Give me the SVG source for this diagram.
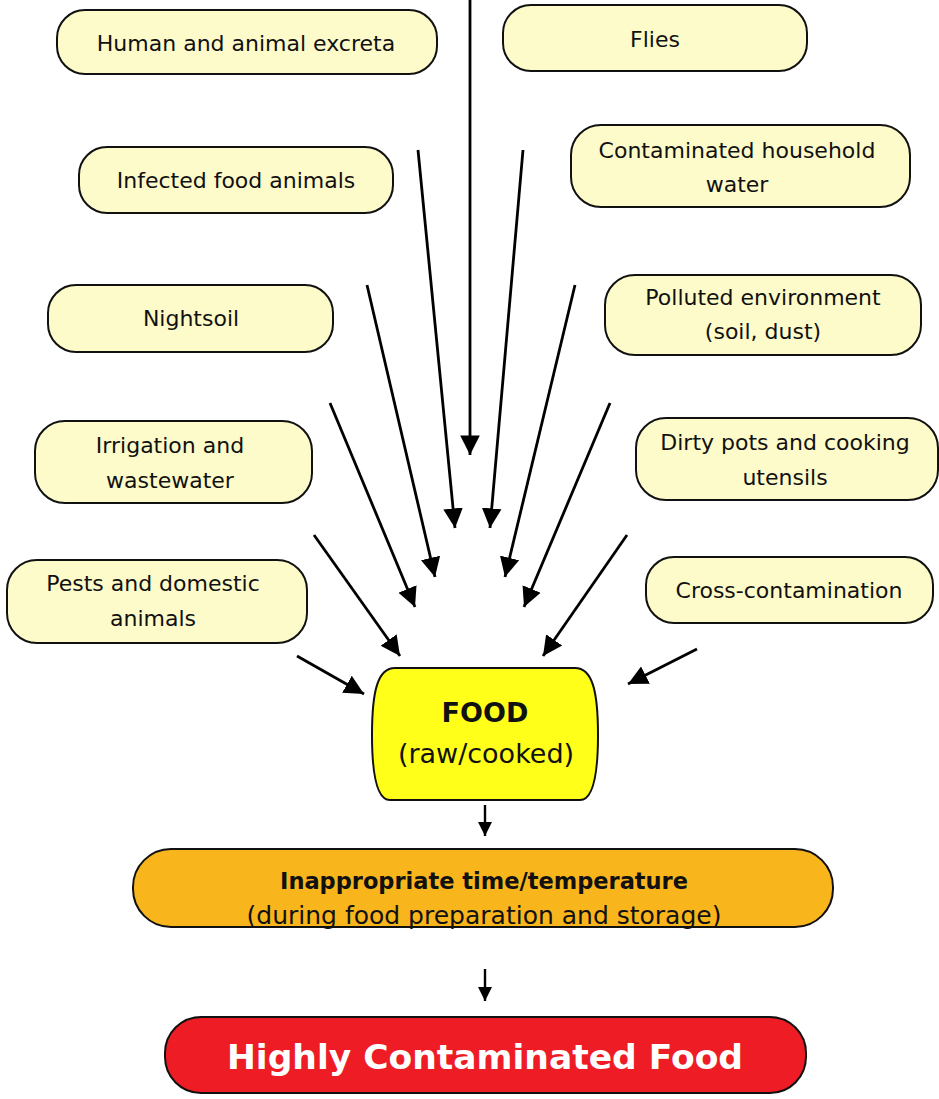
<svg xmlns="http://www.w3.org/2000/svg" width="939" height="1099" viewBox="0 0 939 1099">
<defs>
<style>
.src{fill:#fdfbc9;stroke:#111;stroke-width:2}
.t{font-family:"DejaVu Sans","Open Sans",sans-serif;font-size:22px;fill:#111;text-anchor:middle}
.c line{stroke:#000;stroke-width:2.8}
</style>
<marker id="big" viewBox="0 0 10 10" refX="10" refY="5" markerWidth="7" markerHeight="8" orient="auto">
<path d="M0,0 L10,5 L0,10 Z" fill="#000"/>
</marker>
<marker id="small" viewBox="0 0 10 10" refX="10" refY="5" markerWidth="6" markerHeight="6.5" orient="auto">
<path d="M0,0 L10,5 L0,10 Z" fill="#000"/>
</marker>
</defs>
<rect width="939" height="1099" fill="#fff"/>
<g id="excreta"><rect class="src" x="57" y="10" width="380" height="64" rx="28"/><text class="t" x="246" y="51">Human and animal excreta</text></g>
<g id="flies"><rect class="src" x="503" y="5" width="304" height="66" rx="28"/><text class="t" x="655" y="47">Flies</text></g>
<g id="infected"><rect class="src" x="79" y="147" width="314" height="66" rx="28"/><text class="t" x="236" y="188">Infected food animals</text></g>
<g id="water"><rect class="src" x="571" y="125" width="339" height="82" rx="30"/><text class="t" x="737" y="158">Contaminated household</text><text class="t" x="737" y="192">water</text></g>
<g id="nightsoil"><rect class="src" x="48" y="285" width="285" height="67" rx="28"/><text class="t" x="191" y="326">Nightsoil</text></g>
<g id="polluted"><rect class="src" x="605" y="275" width="316" height="80" rx="30"/><text class="t" x="763" y="305">Polluted environment</text><text class="t" x="763" y="339">(soil, dust)</text></g>
<g id="irrigation"><rect class="src" x="35" y="421" width="277" height="82" rx="30"/><text class="t" x="170" y="453">Irrigation and</text><text class="t" x="170" y="488">wastewater</text></g>
<g id="pots"><rect class="src" x="636" y="418" width="302" height="82" rx="30"/><text class="t" x="785" y="450">Dirty pots and cooking</text><text class="t" x="785" y="485">utensils</text></g>
<g id="pests"><rect class="src" x="7" y="560" width="300" height="83" rx="30"/><text class="t" x="153" y="591">Pests and domestic</text><text class="t" x="153" y="626">animals</text></g>
<g id="cross"><rect class="src" x="646" y="557" width="287" height="66" rx="28"/><text class="t" x="789" y="598">Cross-contamination</text></g>
<g id="food"><path d="M395,668 H575 C592,668 598,690 598,735 C598,780 592,800 580,800 H390 C378,800 372,780 372,735 C372,690 378,668 395,668 Z" fill="#ffff1a" stroke="#111" stroke-width="2"/><text class="t" x="485" y="722" style="font-weight:bold;font-size:27px">FOOD</text><text class="t" x="486" y="763" style="font-size:27px">(raw/cooked)</text></g>
<g id="temp"><rect x="133" y="849" width="700" height="78" rx="38" fill="#f9b51c" stroke="#111" stroke-width="2"/><text class="t" x="484" y="889" style="font-weight:bold;font-size:22.5px">Inappropriate time/temperature</text><text class="t" x="484" y="924" style="font-size:25px">(during food preparation and storage)</text></g>
<g id="result"><rect x="165" y="1017" width="641" height="76" rx="36" fill="#ee1c25" stroke="#111" stroke-width="2"/><text class="t" x="485" y="1069" style="font-weight:bold;font-size:34.5px;fill:#fff">Highly Contaminated Food</text></g>
<g class="c" id="connectors">
<line x1="470" y1="0" x2="470" y2="455" marker-end="url(#big)"/>
<line x1="418" y1="150" x2="455" y2="528" marker-end="url(#big)"/>
<line x1="523" y1="150" x2="490" y2="528" marker-end="url(#big)"/>
<line x1="367" y1="285" x2="435" y2="577" marker-end="url(#big)"/>
<line x1="575" y1="285" x2="505" y2="577" marker-end="url(#big)"/>
<line x1="330" y1="403" x2="415" y2="607" marker-end="url(#big)"/>
<line x1="610" y1="403" x2="524" y2="607" marker-end="url(#big)"/>
<line x1="314" y1="535" x2="400" y2="656" marker-end="url(#big)"/>
<line x1="627" y1="535" x2="543" y2="656" marker-end="url(#big)"/>
<line x1="297" y1="656" x2="364" y2="694" marker-end="url(#big)"/>
<line x1="697" y1="649" x2="628" y2="684" marker-end="url(#big)"/>
<line x1="485" y1="805" x2="485" y2="836" style="stroke-width:2.4" marker-end="url(#small)"/>
<line x1="485" y1="969" x2="485" y2="1001" style="stroke-width:2.4" marker-end="url(#small)"/>
</g>
</svg>
